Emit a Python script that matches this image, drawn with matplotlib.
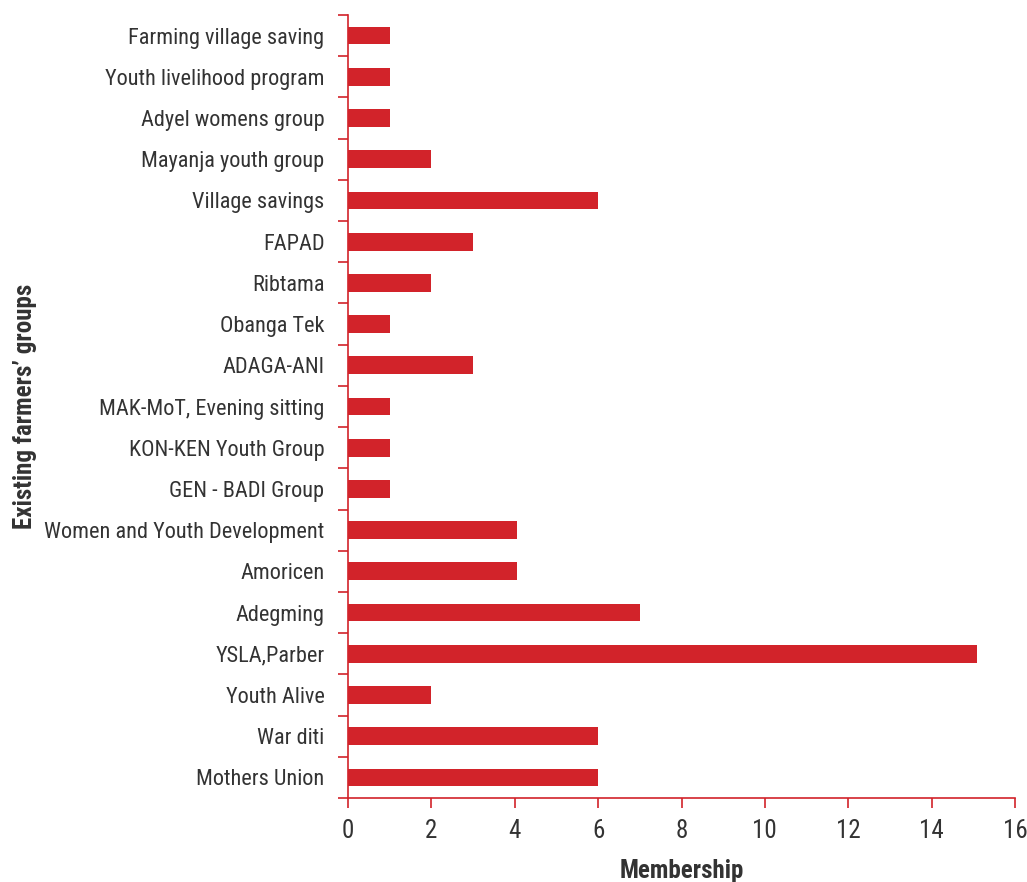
import matplotlib
matplotlib.use("Agg")
import matplotlib.pyplot as plt
import numpy as np

groups = [
    "Farming village saving", "Youth livelihood program", "Adyel womens group",
    "Mayanja youth group", "Village savings", "FAPAD", "Ribtama", "Obanga Tek",
    "ADAGA-ANI", "MAK-MoT, Evening sitting", "KON-KEN Youth Group",
    "GEN - BADI Group", "Women and Youth Development", "Amoricen", "Adegming",
    "YSLA,Parber", "Youth Alive", "War diti", "Mothers Union",
]
membership = [1, 1, 1, 2, 6, 3, 2, 1, 3, 1, 1, 1, 4.05, 4.05, 7, 15.1, 2, 6, 6]
x_ticks = [0, 2, 4, 6, 8, 10, 12, 14, 16]

plt.rcParams["font.family"] = ["Roboto Condensed", "Archivo Narrow", "Liberation Sans Narrow", "DejaVu Sans"]

red = "#d2232a"
txt = "#333333"

fig = plt.figure(figsize=(10.27, 8.82), dpi=100)
ax = fig.add_axes([348 / 1027, 84 / 882, 667 / 1027, 783 / 882])

n = len(groups)
ypos = np.arange(n)[::-1]
ax.barh(ypos, membership, height=0.43, color=red)

ax.set_xlim(0, 16)
ax.set_ylim(-0.5, n - 0.5)
ax.set_xticks(x_ticks)
ax.set_xticklabels([str(t) for t in x_ticks], fontsize=18, color=txt)
ax.set_yticks(ypos)
ax.set_yticklabels(groups, fontsize=16, color=txt)
ax.tick_params(axis="y", length=0, pad=17)
ax.set_yticks(np.arange(-0.5, n, 1), minor=True)
ax.tick_params(axis="y", which="minor", length=7, color=red, width=1.2)
ax.tick_params(axis="x", length=7, color=red, width=1.2, pad=8)

for s in ["top", "right"]:
    ax.spines[s].set_visible(False)
for s in ["left", "bottom"]:
    ax.spines[s].set_color(red)
    ax.spines[s].set_linewidth(1.2)

ax.set_xlabel("Membership", fontsize=18, fontweight="bold", color=txt)
ax.set_ylabel("Existing farmers\u2019 groups", fontsize=18, fontweight="bold", color=txt)
ax.xaxis.set_label_coords(0.5, -0.078)
ax.yaxis.set_label_coords(-0.466, 0.5)

fig.savefig("out.png", dpi=100)
